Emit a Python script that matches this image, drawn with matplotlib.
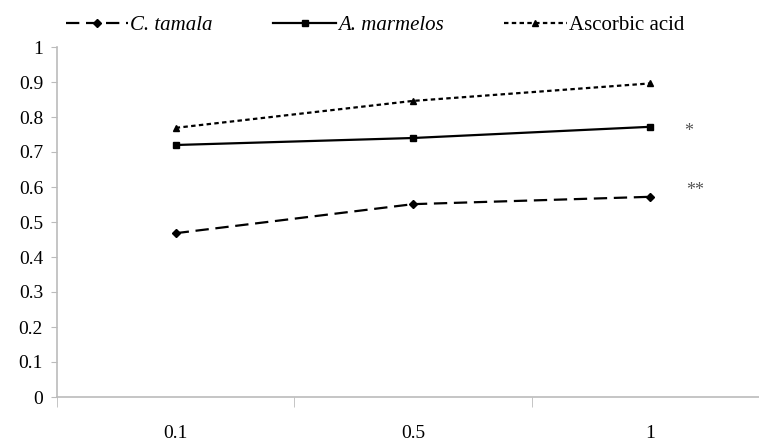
import numpy as np
import matplotlib.pyplot as plt

plt.rcParams['font.family'] = ['Liberation Serif', 'DejaVu Serif']

doses = ['0.1', '0.5', '1']
c_tamala = [0.468, 0.551, 0.572]
a_marmelos = [0.72, 0.74, 0.772]
ascorbic = [0.769, 0.846, 0.896]
sig_labels = ['*', '**']
sig_values = [0.76, 0.59]

fig = plt.figure(figsize=(7.59, 4.41), dpi=100)
ax = fig.add_axes([57/759, 44/441, 712/759, 350/441])

x = np.arange(len(doses))
ax.plot(x, c_tamala, color='black', lw=1.6, ls=(0, (6, 3)), marker='D', ms=4,
        label='C. tamala')
ax.plot(x, a_marmelos, color='black', lw=1.6, ls='-', marker='s', ms=5,
        label='A. marmelos')
ax.plot(x, ascorbic, color='black', lw=1.6, ls=(0, (2, 1.5)), marker='^', ms=4,
        label='Ascorbic acid')

# significance marks to the right of the last point
ax.text(2.16, sig_values[0], sig_labels[0], fontsize=13, ha='center', va='center', color='#555555')
ax.text(2.19, sig_values[1], sig_labels[1], fontsize=13, ha='center', va='center', color='#555555')

ax.set_xlim(-0.5, 2.5)
ax.set_ylim(0, 1)
ax.set_yticks(np.arange(0, 1.01, 0.1))
ax.set_yticklabels(['0', '0.1', '0.2', '0.3', '0.4', '0.5', '0.6', '0.7', '0.8', '0.9', '1'])
ax.set_xticks(x)
ax.set_xticklabels(doses)
ax.set_xticks([-0.5, 0.5, 1.5, 2.5], minor=True)

for s in ['top', 'right']:
    ax.spines[s].set_visible(False)
for s in ['left', 'bottom']:
    ax.spines[s].set_color('#bbbbbb')
    ax.spines[s].set_linewidth(1.2)

ax.tick_params(axis='y', length=4, color='#bbbbbb', labelsize=14, pad=6)
ax.tick_params(axis='x', which='major', length=0, labelsize=14, pad=20)
ax.tick_params(axis='x', which='minor', length=7, color='#bbbbbb')

leg = fig.legend(loc='center left', bbox_to_anchor=(0.062, 0.942), ncol=3, frameon=False,
                 fontsize=15, handlelength=3.0, handletextpad=0.1, columnspacing=2.9)
for t in leg.get_texts()[:2]:
    t.set_fontstyle('italic')

fig.savefig('out.png', dpi=100)
